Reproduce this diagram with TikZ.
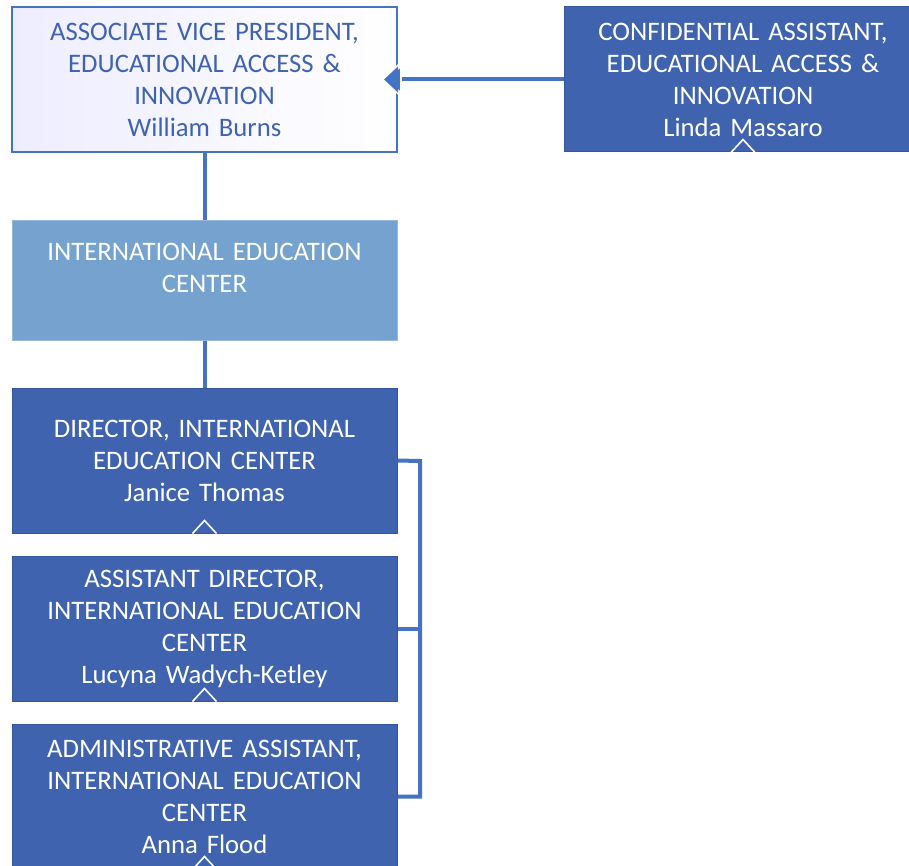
\documentclass[tikz,border=0pt]{standalone}
\usepackage{fontspec}
\setmainfont{Carlito}[WordSpace=0.85]
\usetikzlibrary{calc}
\definecolor{darkbox}{RGB}{63,99,174}
\definecolor{darkedge}{RGB}{52,86,156}
\definecolor{lightbox}{RGB}{117,162,207}
\definecolor{lightedge}{RGB}{150,185,222}
\definecolor{lineblue}{RGB}{68,114,196}
\definecolor{avptext}{RGB}{63,99,178}
\tikzset{
  orgbox/.style={rectangle, minimum width=385pt, text width=370pt, align=center, inner sep=0pt,
     font=\fontsize{26.7}{32}\selectfont},
  darkstyle/.style={orgbox, fill=darkbox, draw=darkedge, line width=1pt, text=white},
  conn/.style={draw=lineblue, line width=4pt},
  tri/.style={draw=white, line width=1.6pt, line join=miter},
}
\begin{document}
\begin{tikzpicture}[x=1pt,y=-1pt]
\useasboundingbox (0,0) rectangle (909,866);
\clip (0,0) rectangle (909,866);
\node[orgbox, minimum height=145pt, draw=lineblue, line width=1.5pt, left color=blue!7, right color=white, text=avptext] (avp) at (204.5,79.5)
  {ASSOCIATE VICE PRESIDENT,\\EDUCATIONAL ACCESS \&\\INNOVATION\\William Burns};
\node[darkstyle, minimum width=358pt, text width=340pt, minimum height=145pt] (ca) at (743,79.5)
  {CONFIDENTIAL ASSISTANT,\\EDUCATIONAL ACCESS \&\\INNOVATION\\Linda Massaro};
\node[orgbox, minimum height=119pt, fill=lightbox, draw=lightedge, line width=1pt] (iec) at (204.5,280.5) {};
\node[orgbox, text=white] (iect) at (204.5,267.5) {INTERNATIONAL EDUCATION\\CENTER};
\node[darkstyle, minimum height=145pt] (dir) at (204.5,460.5)
  {DIRECTOR, INTERNATIONAL\\EDUCATION CENTER\\Janice Thomas};
\node[darkstyle, minimum height=145pt] (asst) at (204.5,628.5)
  {ASSISTANT DIRECTOR,\\INTERNATIONAL EDUCATION\\CENTER\\Lucyna Wadych-Ketley};
\node[darkstyle, minimum height=145pt] (adm) at (204.5,796.5)
  {ADMINISTRATIVE ASSISTANT,\\INTERNATIONAL EDUCATION\\CENTER\\Anna Flood};
% vertical connectors
\draw[conn] (avp.south) -- (iec.north);
\draw[conn] (iec.south) -- (dir.north);
% bracket on the right
\coordinate (b1) at (420,461);
\coordinate (b2) at (420,628.5);
\coordinate (b3) at (420,796.5);
\draw[conn] (dir.east) -- (b1) -- (b3) -- (adm.east);
\draw[conn] (b2) -- (asst.east);
% arrow into AVP
\draw[conn] (ca.west) -- ($(avp.east)+(4,0)$);
\fill[lineblue, draw=white, line width=1.5pt] ($(avp.east)+(-15,0)$) -- ++(16,-15) -- ++(0,30) -- cycle;
\fill[lineblue] ($(avp.east)+(-11,0)$) -- ++(13,-11) -- ++(0,22) -- cycle;
% small open triangles at the bottom of boxes
\foreach \n in {ca, dir, asst, adm}{
  \draw[tri] ($(\n.south)+(-12,0)$) -- ($(\n.south)+(0,-13)$) -- ($(\n.south)+(12,0)$);
}
\end{tikzpicture}
\end{document}
